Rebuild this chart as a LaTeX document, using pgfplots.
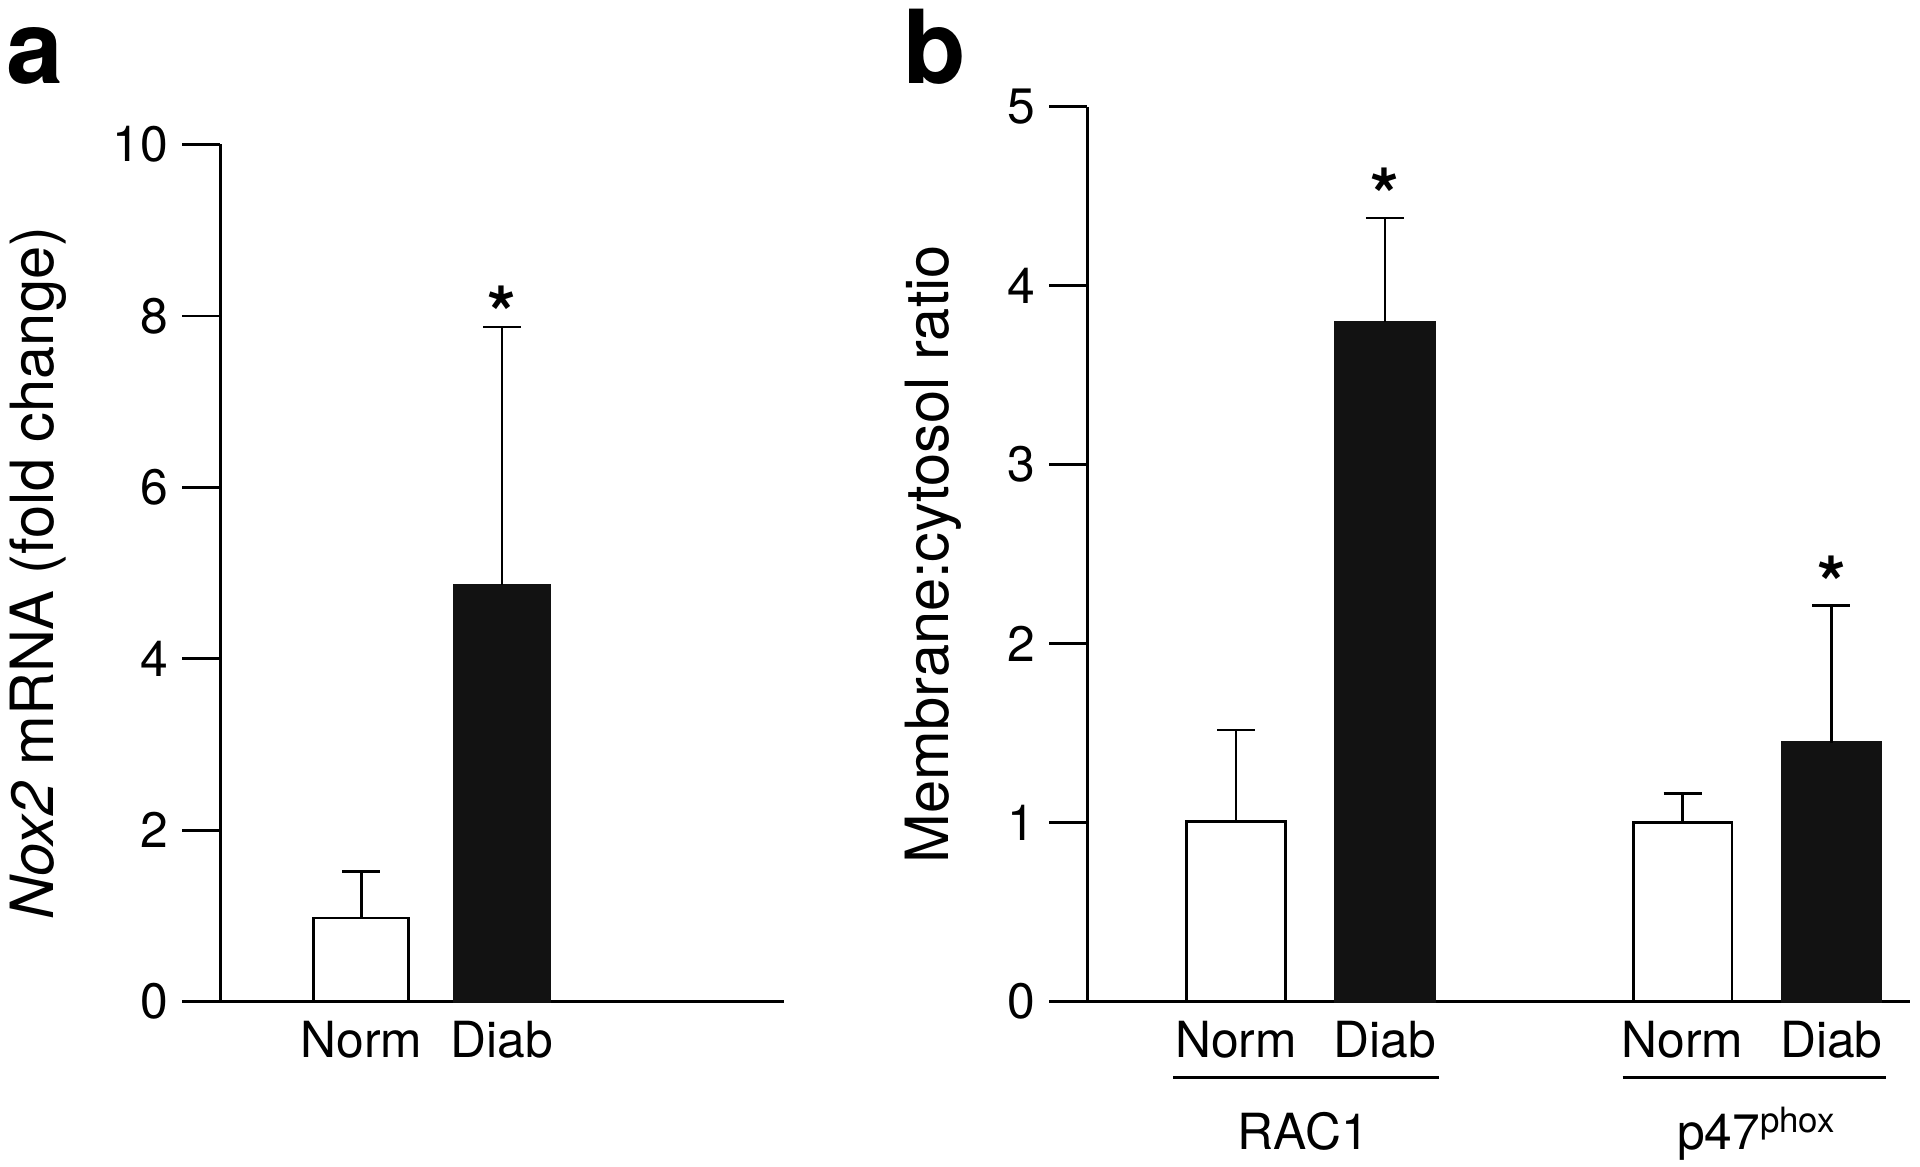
\documentclass[border=0pt]{standalone}
\usepackage{fontspec}
\setmainfont{TeX Gyre Heros}
\usepackage{pgfplots}
\pgfplotsset{compat=1.18}
\usepackage{pgfplotstable}

\pgfplotstableread{
x y err
1 0.976 0.540
}\tabANorm
\pgfplotstableread{
x y err
2 4.857 3.013
}\tabADiab
\pgfplotstableread{
x y err
1 1.005 0.512
4 1.000 0.163
}\tabBNorm
\pgfplotstableread{
x y err
2 3.796 0.582
5 1.447 0.765
}\tabBDiab

\pgfplotsset{
  mypanel/.style={
    scale only axis,
    axis x line*=bottom, axis y line*=left,
    axis line style={-, line width=0.65pt, black},
    tick align=outside,
    major tick length=9.3pt,
    y tick style={line width=0.65pt, black},
    x tick style={draw=none},
    /pgf/number format/assume math mode=true,
    tick label style={font=\fontsize{12.2}{13}\selectfont},
    xticklabel style={yshift=8pt},
    clip=false,
  },
  whitebar/.style={ybar, bar shift=0pt, fill=white, draw=black, line width=0.7pt,
    error bars/.cd, y dir=plus, y explicit,
    error bar style={line width=0.65pt, black},
    error mark options={black, line width=0.65pt, mark size=4.65pt, rotate=90}},
  blackbar/.style={ybar, bar shift=0pt, fill=black!93, draw=black!93, line width=0.65pt,
    error bars/.cd, y dir=plus, y explicit,
    error bar style={line width=0.65pt, black},
    error mark options={black, line width=0.65pt, mark size=4.65pt, rotate=90}},
}

\begin{document}
\begin{tikzpicture}
\path[use as bounding box] (0,0) rectangle (470.4pt,285.9pt);

% Panel a
\begin{axis}[mypanel,
  at={(54pt,40.5pt)}, anchor=south west,
  width=138pt, height=210pt,
  xmin=0, xmax=4, ymin=0, ymax=10,
  ytick={0,2,4,6,8,10},
  xtick={1,2}, xticklabels={Norm,Diab},
  bar width=0.672,
  every axis y label/.style={at={(axis description cs:-0.324,0.5)}, rotate=90, anchor=center,
    font=\fontsize{14.6}{16}\selectfont},
  ylabel={\textit{Nox2} mRNA (fold change)},
]
\addplot[whitebar] table[x=x, y=y, y error=err] {\tabANorm};
\addplot[blackbar] table[x=x, y=y, y error=err] {\tabADiab};
\node[anchor=base, font=\fontsize{18}{20}\selectfont\bfseries, yshift=-3pt] at (axis cs:2,7.87) {*};
\end{axis}

% Panel b
\begin{axis}[mypanel,
  at={(266.4pt,40.5pt)}, anchor=south west,
  width=201.6pt, height=219.3pt,
  xmin=0, xmax=5.53, ymin=0, ymax=5,
  ytick={0,1,2,3,4,5},
  xtick={1,2,4,5}, xticklabels={Norm,Diab,Norm,Diab},
  bar width=0.665,
  every axis y label/.style={at={(axis description cs:-0.1875,0.5)}, rotate=90, anchor=center,
    font=\fontsize{14.6}{16}\selectfont},
  ylabel={Membrane:cytosol ratio},
]
\addplot[whitebar] table[x=x, y=y, y error=err] {\tabBNorm};
\addplot[blackbar] table[x=x, y=y, y error=err] {\tabBDiab};
\node[anchor=base, font=\fontsize{18}{20}\selectfont\bfseries, yshift=-1pt] at (axis cs:2,4.378) {*};
\node[anchor=base, font=\fontsize{18}{20}\selectfont\bfseries, yshift=-1pt] at (axis cs:5,2.212) {*};
\draw[line width=0.65pt] ([yshift=-18.6pt]axis cs:0.576,0) -- ([yshift=-18.6pt]axis cs:2.362,0);
\draw[line width=0.65pt] ([yshift=-18.6pt]axis cs:3.597,0) -- ([yshift=-18.6pt]axis cs:5.366,0);
\node[anchor=base, font=\fontsize{12.2}{13}\selectfont] at ([yshift=-36.3pt]axis cs:1.45,0) {RAC1};
\node[anchor=base, font=\fontsize{12.2}{13}\selectfont] at ([yshift=-36.3pt]axis cs:4.5,0) {p47\textsuperscript{phox}};
\end{axis}

\node[anchor=base west, font=\fontsize{25}{27}\selectfont\bfseries, inner sep=0pt] at (1.5pt,265.5pt) {a};
\node[anchor=base west, font=\fontsize{25}{27}\selectfont\bfseries, inner sep=0pt] at (221.1pt,265.5pt) {b};
\end{tikzpicture}
\end{document}
